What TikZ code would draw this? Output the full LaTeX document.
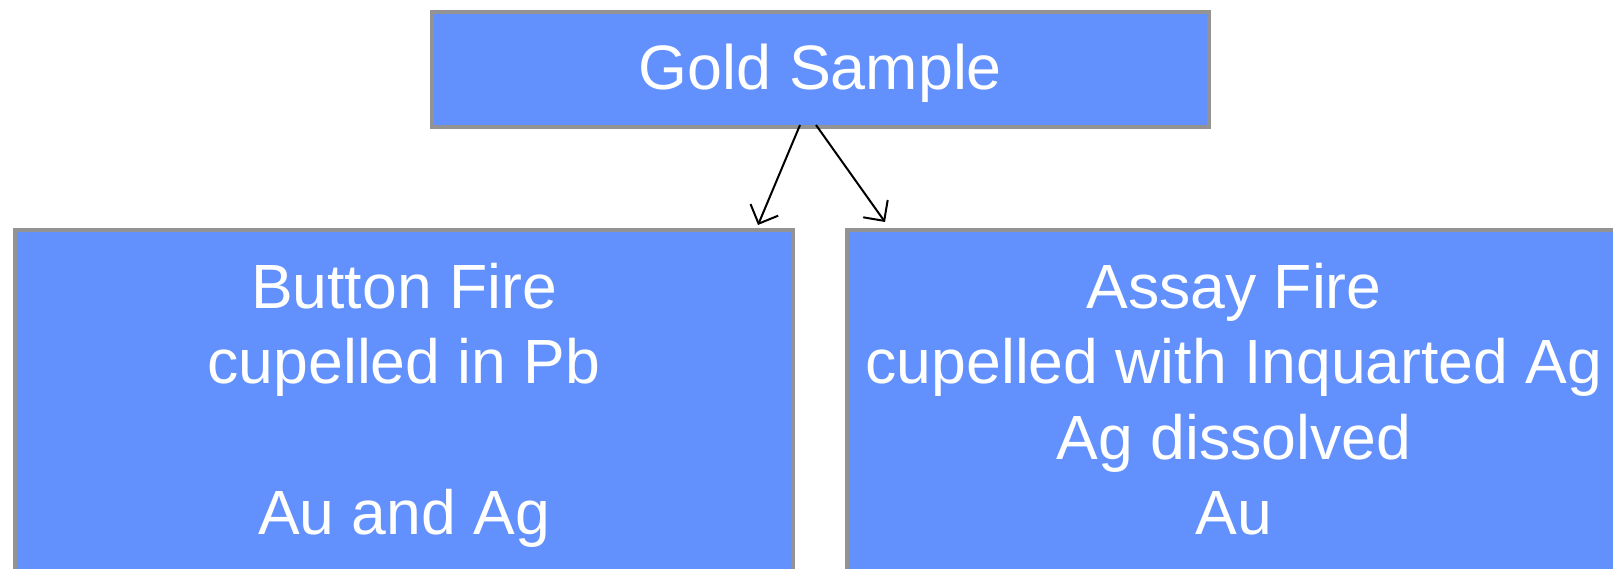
\documentclass[tikz,border=0pt]{standalone}
\usepackage{fontspec}
\setmainfont{Liberation Sans}
\usetikzlibrary{calc,arrows.meta}
\definecolor{boxfill}{RGB}{98,144,252}
\definecolor{boxline}{RGB}{147,147,147}
\tikzset{
  box/.style={rectangle, draw=boxline, line width=4pt, fill=boxfill, inner sep=0pt},
  txt/.style={text=white, inner sep=0pt, align=center, font=\fontsize{62.5}{75.5}\selectfont},
  conn/.style={line width=2pt, -{Straight Barb[length=15pt,width=30pt,line width=2pt]}}
}
\begin{document}
\begin{tikzpicture}[x=1pt,y=-1pt]
\useasboundingbox (0,0) rectangle (1613,569);
\node[box, minimum width=777pt, minimum height=115pt] (top) at (820.5,69.5) {};
\node[box, minimum width=778pt, minimum height=390pt] (left) at (404,425) {};
\node[box, minimum width=780pt, minimum height=390pt] (right) at (1237,425) {};
\node[txt, anchor=base, font=\fontsize{62.8}{75.5}\selectfont] (goldtxt) at (820.5,90) {Gold Sample};
\node[txt, anchor=north] (lefttxt) at (404,255.15) {\strut Button Fire\\\strut cupelled in Pb\\\strut\\\strut Au and Ag};
\node[txt, anchor=north] (righttxt) at (1234,255.15) {\strut Assay Fire\\\strut cupelled with Inquarted Ag\\\strut Ag dissolved\\\strut Au};
\coordinate (s1) at ($(top.south)+(-20.5,-4)$);
\coordinate (s2) at ($(top.south)+(-4.5,-4)$);
\coordinate (e1) at ($(left.north east)+(-37,-3)$);
\coordinate (e2) at ($(right.north west)+(40,-6)$);
\draw[conn] (s1) -- (e1);
\draw[conn] (s2) -- (e2);
\end{tikzpicture}
\end{document}
